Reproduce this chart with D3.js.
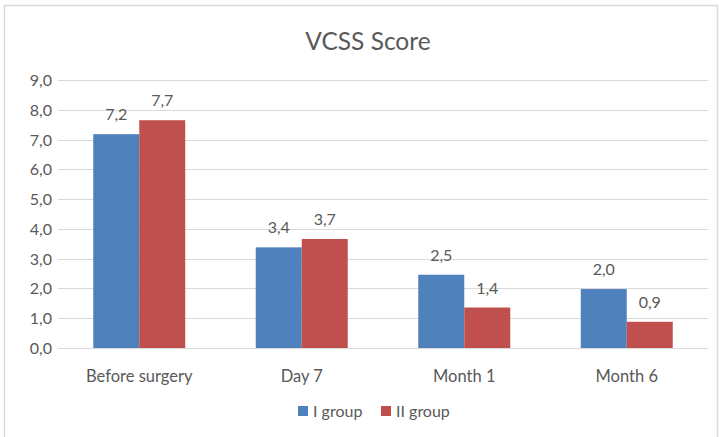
<!DOCTYPE html>
<html>
<head>
<meta charset="utf-8">
<script src="https://cdn.jsdelivr.net/npm/d3@7"></script>
<style>
  body { margin: 0; background: #fff; }
  svg text { font-family: Lato, "Open Sans", sans-serif; fill: #595959; }
</style>
</head>
<body>
<div id="chart"></div>
<script>
const categories = ["Before surgery", "Day 7", "Month 1", "Month 6"];
const seriesNames = ["I group", "II group"];
// bar heights; labels show them rounded to one decimal
const group1 = [7.18, 3.38, 2.46, 1.98];
const group2 = [7.65, 3.66, 1.36, 0.88];
const yTicks = [0, 1, 2, 3, 4, 5, 6, 7, 8, 9];
const colors = ["#4f81bd", "#c0504d"];

const width = 719, height = 437;
const margin = { left: 58, right: 11, top: 80, bottom: 88 };

const svg = d3.select("#chart").append("svg")
    .attr("width", width)
    .attr("height", height);

// chart frame
svg.append("rect")
    .attr("x", 4.5).attr("y", 5.5)
    .attr("width", 713).attr("height", 440)
    .attr("fill", "none")
    .attr("stroke", "#d9d9d9")
    .attr("stroke-width", 1.5);

svg.append("text")
    .attr("x", 368).attr("y", 50)
    .attr("text-anchor", "middle")
    .style("font-size", "24.5px")
    .text("VCSS Score");

const x = d3.scaleBand()
    .domain(categories)
    .range([margin.left, width - margin.right])
    .padding(0);

const y = d3.scaleLinear()
    .domain([0, 9])
    .range([height - margin.bottom - 1, margin.top]);

const fmt = v => d3.format(".1f")(v).replace(".", ",");

// gridlines
svg.append("g")
    .selectAll("line")
    .data(yTicks)
    .enter()
    .append("line")
    .attr("x1", margin.left)
    .attr("x2", width - margin.right)
    .attr("y1", d => Math.round(y(d)) + 0.5)
    .attr("y2", d => Math.round(y(d)) + 0.5)
    .attr("stroke", "#d9d9d9")
    .attr("stroke-width", 1);

// y labels
svg.append("g")
    .selectAll("text")
    .data(yTicks)
    .enter()
    .append("text")
    .attr("x", 52)
    .attr("y", d => y(d) + 6)
    .attr("text-anchor", "end")
    .style("font-size", "16px")
    .text(d => fmt(d));

const barW = 46;
const sub = d3.scaleBand()
    .domain([0, 1])
    .range([0, barW * 2]);

const rows = [];
categories.forEach((c, i) => {
    rows.push({ cat: c, s: 0, v: group1[i] });
    rows.push({ cat: c, s: 1, v: group2[i] });
});

const bars = svg.append("g");
bars.selectAll("rect")
    .data(rows)
    .enter()
    .append("rect")
    .attr("x", d => x(d.cat) + x.bandwidth() / 2 - barW + sub(d.s))
    .attr("y", d => y(d.v))
    .attr("width", sub.bandwidth())
    .attr("height", d => y(0) - y(d.v))
    .attr("fill", d => colors[d.s]);

bars.selectAll("text")
    .data(rows)
    .enter()
    .append("text")
    .attr("x", d => x(d.cat) + x.bandwidth() / 2 - barW + sub(d.s) + sub.bandwidth() / 2)
    .attr("y", d => y(d.v) - 14)
    .attr("text-anchor", "middle")
    .style("font-size", "16px")
    .text(d => fmt(d.v));

// category labels
svg.append("g")
    .selectAll("text")
    .data(categories)
    .enter()
    .append("text")
    .attr("x", d => x(d) + x.bandwidth() / 2)
    .attr("y", 382)
    .attr("text-anchor", "middle")
    .style("font-size", "16.5px")
    .text(d => d);

// legend
const legendX = [298, 381];
const legend = svg.append("g");
seriesNames.forEach((name, i) => {
    legend.append("rect")
        .attr("x", legendX[i]).attr("y", 406)
        .attr("width", 10).attr("height", 10)
        .attr("fill", colors[i]);
    legend.append("text")
        .attr("x", legendX[i] + 15).attr("y", 417)
        .style("font-size", "16px")
        .text(name);
});
</script>
</body>
</html>
